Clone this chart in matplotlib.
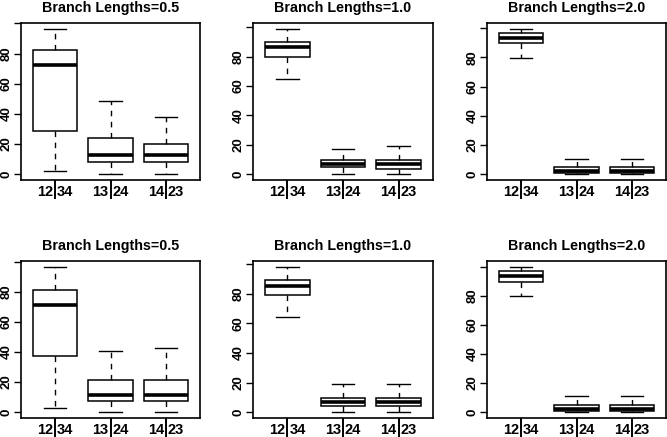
import matplotlib
matplotlib.use("Agg")
from matplotlib import pyplot as plt

plt.rcParams['font.family'] = ['Liberation Sans', 'DejaVu Sans']
plt.rcParams['font.weight'] = 'bold'

splits = ["12|34", "13|24", "14|23"]
titles = ["Branch Lengths=0.5", "Branch Lengths=1.0", "Branch Lengths=2.0"]

# five-number summaries: (low, q1, median, q3, high)
top_05 = [(2.2, 28.5, 72.3, 82.2, 96.4), (0.2, 8.1, 12.7, 24.1, 48.2), (0.0, 8.1, 12.7, 20.2, 37.9)]
top_10 = [(64.9, 80.0, 86.3, 89.9, 98.9), (0.0, 5.0, 7.2, 9.7, 17.1), (0.0, 3.8, 6.8, 9.7, 19.2)]
top_20 = [(79.8, 89.8, 93.0, 96.4, 99.6), (0.0, 0.7, 2.3, 4.6, 10.5), (0.0, 0.7, 2.5, 4.6, 10.5)]
bot_05 = [(2.7, 37.1, 71.4, 81.3, 96.6), (0.4, 7.5, 11.7, 21.7, 40.4), (0.0, 7.5, 11.7, 21.7, 42.7)]
bot_10 = [(64.5, 79.3, 85.4, 89.0, 98.2), (0.0, 4.0, 7.0, 9.7, 18.9), (0.0, 4.0, 7.0, 9.7, 18.9)]
bot_20 = [(79.8, 89.8, 93.7, 96.9, 99.9), (0.0, 1.1, 2.5, 5.0, 11.2), (0.0, 1.1, 2.5, 5.0, 11.2)]

panels = [top_05, top_10, top_20, bot_05, bot_10, bot_20]
yticks = [0, 20, 40, 60, 80, 100]

W, H = 667, 437
fig = plt.figure(figsize=(W / 100, H / 100), dpi=100)
cols = [(21, 200), (253, 433), (487, 666)]
rows = [(23, 180), (261, 418)]

dash = (0, (4, 4))
for i, summ in enumerate(panels):
    r, c = divmod(i, 3)
    x0, x1 = cols[c]
    t0, b0 = rows[r]
    ax = fig.add_axes([x0 / W, 1 - b0 / H, (x1 - x0) / W, (b0 - t0) / H])
    stats = []
    for lab, (lo, q1, med, q3, hi) in zip(splits, summ):
        stats.append(dict(label=lab, whislo=lo, q1=q1, med=med, q3=q3, whishi=hi, fliers=[]))
    ax.bxp(stats, positions=[1, 2, 3], widths=0.8, capwidths=0.4, patch_artist=True,
           showfliers=False,
           boxprops=dict(facecolor='white', edgecolor='black', linewidth=1.1),
           medianprops=dict(color='black', linewidth=2.6, solid_capstyle='butt'),
           whiskerprops=dict(color='black', linewidth=1.0, linestyle=dash),
           capprops=dict(color='black', linewidth=1.0))
    lo_all = min(s[0] for s in summ)
    hi_all = max(s[4] for s in summ)
    pad = 0.04 * (hi_all - lo_all)
    ax.set_ylim(lo_all - pad, hi_all + pad)
    ax.set_xlim(0.38, 3.62)
    ax.set_yticks(yticks)
    ax.set_yticklabels([str(v) if v < 100 else "" for v in yticks], rotation=90, va='center')
    ax.tick_params(axis='y', length=5, width=1.0, pad=1.2, labelsize=9.5)
    ax.set_xticks([1, 2, 3])
    ax.set_xticklabels([])
    ax.tick_params(axis='x', length=14, width=1.4)
    for p, lab in zip([1, 2, 3], splits):
        a, b = lab.split("|")
        ax.annotate(a, xy=(p, 0), xycoords=('data', 'axes fraction'), xytext=(-1.3, -8.8),
                    textcoords='offset points', ha='right', va='center', fontsize=10.5, fontweight='bold')
        ax.annotate(b, xy=(p, 0), xycoords=('data', 'axes fraction'), xytext=(1.3, -8.8),
                    textcoords='offset points', ha='left', va='center', fontsize=10.5, fontweight='bold')
    for sp in ax.spines.values():
        sp.set_linewidth(1.2)
    ax.set_title(titles[c], fontsize=10.3, fontweight='bold', pad=8)

fig.savefig("out.png", dpi=100)
